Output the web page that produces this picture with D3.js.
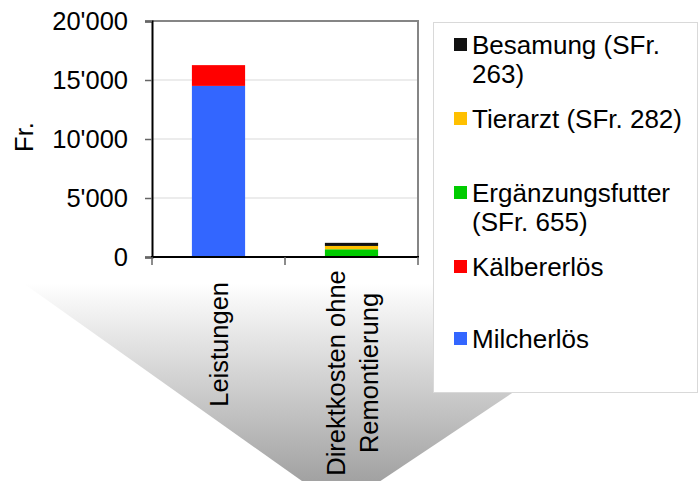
<!DOCTYPE html>
<html><head><meta charset="utf-8">
<script src="https://cdn.jsdelivr.net/npm/d3@7"></script>
<style>html,body{margin:0;padding:0;background:#fff;}svg{display:block;font-family:"Liberation Sans",Arial,sans-serif;}</style>
</head><body>
<script>
const categories = ["Leistungen", "Direktkosten ohne\nRemontierung"];
const seriesNames = ["Milcherlös", "Kälbererlös", "Ergänzungsfutter (SFr. 655)", "Tierarzt (SFr. 282)", "Besamung (SFr. 263)"];
const milcherloes = [14500, 0];
const kaelbererloes = [1760, 0];
const ergaenzungsfutter = [0, 655];
const tierarzt = [0, 282];
const besamung = [0, 263];
const yTicks = [0, 5000, 10000, 15000, 20000];
const colors = ["#3366ff", "#ff0000", "#00cc00", "#ffc000", "#111111"];
const legendLines = [
  ["Besamung (SFr.", "263)"],
  ["Tierarzt (SFr. 282)"],
  ["Ergänzungsfutter", "(SFr. 655)"],
  ["Kälbererlös"],
  ["Milcherlös"]
];
const legendColors = ["#111111", "#ffc000", "#00cc00", "#ff0000", "#3366ff"];

const W = 699, H = 481, FS = 25.5, LFS = 26;
const svg = d3.select("body").append("svg").attr("width", W).attr("height", H);

// background gradient chevron
const defs = svg.append("defs");
const grad = defs.append("linearGradient").attr("id", "bg").attr("gradientUnits", "userSpaceOnUse")
  .attr("x1", 0).attr("y1", 283).attr("x2", 0).attr("y2", 508);
grad.append("stop").attr("offset", 0).attr("stop-color", "#ffffff");
grad.append("stop").attr("offset", 1).attr("stop-color", "#959595");
svg.append("path").attr("d", "M23,283 L677,283 L340,508 Z").attr("fill", "url(#bg)");

const x = d3.scaleBand().domain(categories).range([152, 418]).paddingInner(0.6).paddingOuter(0.3);
const y = d3.scaleLinear().domain([0, 20000]).range([257, 21]);
const loc = d3.formatLocale({decimal: ".", thousands: "'", grouping: [3], currency: ["", ""]});
const fmt = loc.format(",");

// plot area
svg.append("rect").attr("x", 152).attr("y", 21).attr("width", 266).attr("height", 236).attr("fill", "#fff");
// gridlines
svg.append("g").selectAll("line").data(yTicks.filter(d => d > 0 && d < 20000)).join("line")
  .attr("x1", 152).attr("x2", 418).attr("y1", d => y(d)).attr("y2", d => y(d))
  .attr("stroke", "#d9d9d9").attr("stroke-width", 1.2);
// top/right border
svg.append("path").attr("d", `M152,${y(20000)} H418 V${y(0)}`).attr("fill", "none").attr("stroke", "#858585").attr("stroke-width", 2);

// stacks
const data = categories.map((c, i) => ({cat: c, v: [milcherloes[i], kaelbererloes[i], ergaenzungsfutter[i], tierarzt[i], besamung[i]]}));
const stack = d3.stack().keys([0, 1, 2, 3, 4]).value((d, k) => d.v[k]);
const layers = stack(data);
svg.append("g").selectAll("g").data(layers).join("g").attr("fill", (d, i) => colors[i])
  .selectAll("rect").data(d => d.map(p => ({p, cat: p.data.cat}))).join("rect")
  .attr("x", d => x(d.cat)).attr("width", x.bandwidth())
  .attr("y", d => y(d.p[1])).attr("height", d => y(d.p[0]) - y(d.p[1]));

// y axis
const yAxis = svg.append("g").attr("transform", "translate(152,0)")
  .call(d3.axisLeft(y).tickValues(yTicks).tickFormat(fmt).tickSize(7).tickPadding(17));
yAxis.select(".domain").attr("stroke", "#000").attr("stroke-width", 2);
yAxis.selectAll(".tick line").attr("stroke", "#666").attr("stroke-width", 1.5);
yAxis.selectAll("text").attr("font-size", FS).attr("fill", "#000").attr("font-family", "Liberation Sans, Arial, sans-serif");

// x axis baseline and ticks
svg.append("line").attr("x1", 151).attr("x2", 419).attr("y1", y(0)).attr("y2", y(0)).attr("stroke", "#000").attr("stroke-width", 2);
const bounds = d3.range(categories.length + 1).map(i => x.range()[0] + i * (x.range()[1] - x.range()[0]) / categories.length);
svg.append("g").selectAll("line").data(bounds).join("line")
  .attr("x1", d => d).attr("x2", d => d).attr("y1", y(0)).attr("y2", y(0) + 8)
  .attr("stroke", "#666").attr("stroke-width", 1.5);

// x labels (rotated)
const cx0 = x("Leistungen") + x.bandwidth() / 2;
svg.append("text").attr("transform", `translate(${cx0 + 9},282) rotate(-90)`)
  .attr("text-anchor", "end").attr("font-size", FS).text(categories[0]);
const cx1 = x(categories[1]) + x.bandwidth() / 2;
const lines = categories[1].split("\n");
lines.forEach((t, i) => {
  svg.append("text").attr("transform", `translate(${cx1 - 7 + i * 33},373) rotate(-90)`)
    .attr("text-anchor", "middle").attr("font-size", FS).text(t);
});

// y label
svg.append("text").attr("transform", "translate(33,137) rotate(-90)").attr("text-anchor", "middle")
  .attr("font-size", FS).text("Fr.");

// legend
svg.append("rect").attr("x", 433.5).attr("y", 22.5).attr("width", 264).attr("height", 370)
  .attr("fill", "#fff").attr("stroke", "#d9d9d9").attr("stroke-width", 1);
const baselines = [[54, 83], [128], [202, 231], [276], [348]];
const lg = svg.append("g");
legendLines.forEach((ls, i) => {
  lg.append("rect").attr("x", 454).attr("y", baselines[i][0] - 16).attr("width", 13).attr("height", 13).attr("fill", legendColors[i]);
  ls.forEach((t, j) => {
    lg.append("text").attr("x", 472).attr("y", baselines[i][j]).attr("font-size", LFS).text(t);
  });
});
</script>
</body></html>
